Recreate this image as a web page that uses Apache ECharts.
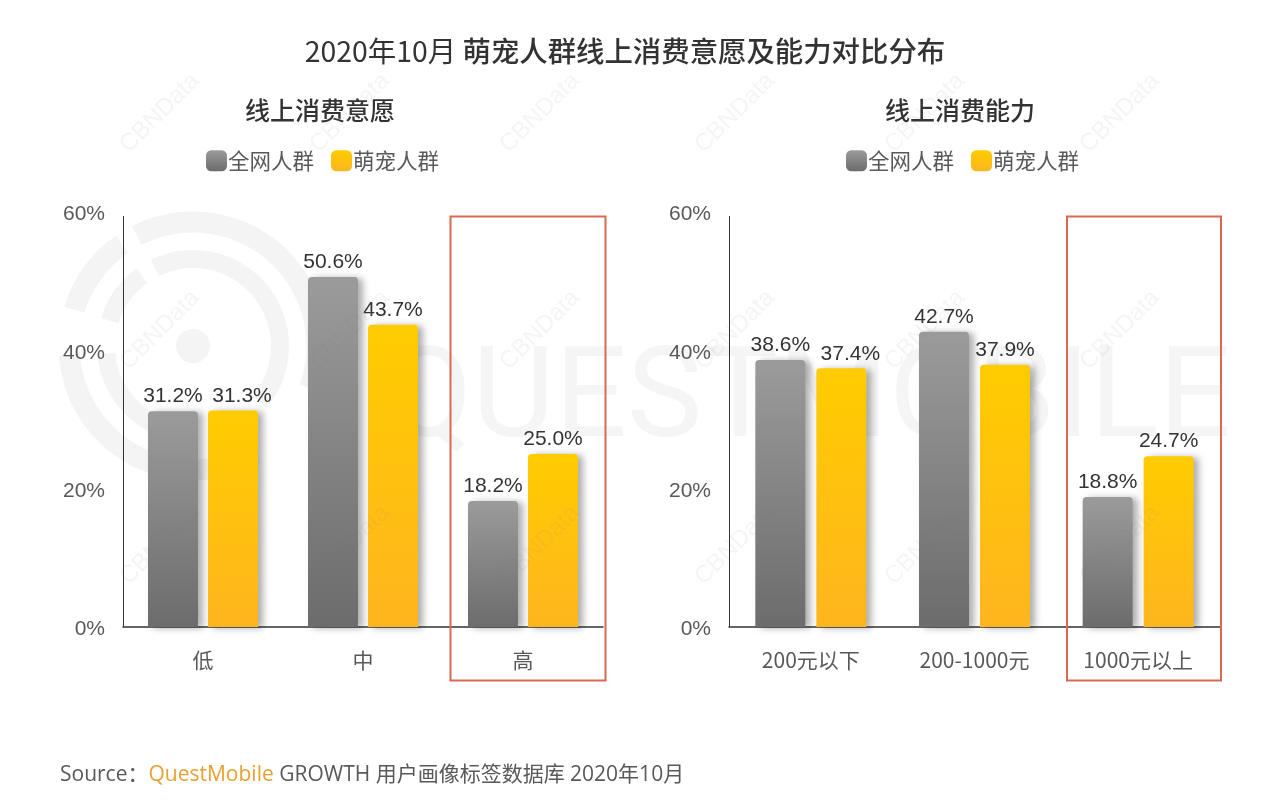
<!DOCTYPE html>
<html>
<head>
<meta charset="utf-8">
<style>
  html, body { margin: 0; padding: 0; background: #fff; }
  #container { width: 1280px; height: 807px; }
</style>
<script src="https://cdn.jsdelivr.net/npm/echarts@6/dist/echarts.min.js"></script>
</head>
<body>
<div id="container"></div>
<script>
var seriesNames = ["全网人群", "萌宠人群"];

var willCategories = ["低", "中", "高"];
var willAll = [31.2, 50.6, 18.2];
var willPet = [31.3, 43.7, 25.0];

var abilityCategories = ["200元以下", "200-1000元", "1000元以上"];
var abilityAll = [38.6, 42.7, 18.8];
var abilityPet = [37.4, 37.9, 24.7];

var latin = "Liberation Sans";
var cjk = "Noto Sans CJK SC";
var grayFill = {
    type: "linear", x: 0, y: 0, x2: 0, y2: 1,
    colorStops: [{ offset: 0, color: "#9b9b9b" }, { offset: 1, color: "#6c6c6c" }]
};
var yellowFill = {
    type: "linear", x: 0, y: 0, x2: 0, y2: 1,
    colorStops: [{ offset: 0, color: "#ffcc00" }, { offset: 1, color: "#ffb51f" }]
};

// nudge is the index of a bar whose label sits to the right of the bar
function barSeries(name, data, idx, fill, gap, nudge) {
    return {
        name: name,
        type: "bar",
        xAxisIndex: idx,
        yAxisIndex: idx,
        data: data.map(function (v, i) {
            return i === nudge ? { value: v, label: { offset: [9, 0] } } : v;
        }),
        barWidth: 50,
        barGap: gap,
        itemStyle: {
            color: fill,
            borderRadius: [4, 4, 0, 0],
            shadowColor: "rgba(0,0,0,0.32)",
            shadowBlur: 7,
            shadowOffsetX: 5,
            shadowOffsetY: 1
        },
        label: {
            show: true,
            position: "top",
            distance: 4,
            fontFamily: latin,
            fontSize: 21,
            color: "#333",
            formatter: function (p) { return p.value.toFixed(1) + "%"; }
        }
    };
}

function xAxisOf(idx, cats) {
    return {
        type: "category",
        gridIndex: idx,
        data: cats,
        axisTick: { show: false },
        axisLine: { lineStyle: { color: "#333", width: 1.5 } },
        axisLabel: { margin: 23, fontFamily: cjk, fontSize: 21, color: "#595959", interval: 0 }
    };
}

function yAxisOf(idx) {
    return {
        type: "value",
        gridIndex: idx,
        min: 0,
        max: 60,
        interval: 20,
        axisLine: { show: false },
        axisTick: { show: false },
        splitLine: { show: false },
        axisLabel: {
            margin: 18, verticalAlign: "top", padding: [-8, 0, 0, 0],
            fontFamily: latin, fontSize: 21, color: "#595959", formatter: "{value}%"
        }
    };
}

function legendOf(left) {
    return {
        left: left,
        top: 150,
        padding: 0,
        icon: "roundRect",
        itemWidth: 21,
        itemHeight: 21,
        itemGap: 17,
        data: seriesNames,
        textStyle: { fontFamily: cjk, fontSize: 21.5, color: "#595959", padding: [0, 0, 0, -4] }
    };
}

function titleOf(text, left) {
    return {
        text: text, left: left, top: 98, textAlign: "center", padding: 0,
        textStyle: { fontFamily: cjk, fontSize: 25, fontWeight: 500, color: "#333" }
    };
}

// watermark pieces, all behind the bars
var wm = "#f4f4f4";
function ring(r, w, from, to) {
    return {
        type: "arc",
        z: 0,
        silent: true,
        shape: { cx: 193, cy: 346, r: r, startAngle: from * Math.PI / 180, endAngle: to * Math.PI / 180, clockwise: true },
        style: { stroke: wm, lineWidth: w, fill: null }
    };
}

var graphics = [
    ring(124, 21, 243, 380), ring(124, 21, 60, 176), ring(124, 21, 197, 235),
    ring(87, 18, 244, 400), ring(87, 18, 90, 175), ring(87, 18, 197, 234),
    { type: "circle", z: 0, silent: true, shape: { cx: 193, cy: 346, r: 17 }, style: { fill: wm } },
    {
        type: "text", z: 0, silent: true, x: 385, y: 341,
        style: { text: "QUESTMOBILE", fontFamily: "Roboto", fontWeight: 400, fontSize: 127, fill: "#f5f5f5" }
    }
];

[160, 350, 540, 735, 925, 1120].forEach(function (x) {
    [113, 330, 545].forEach(function (y) {
        graphics.push({
            type: "text", z: 20, silent: true, x: x, y: y, rotation: Math.PI / 4,
            style: {
                text: "CBNData", fontFamily: latin, fontSize: 24,
                fill: "rgba(130,130,130,0.08)", align: "center", verticalAlign: "middle"
            }
        });
    });
});

// axis lines and highlight boxes
graphics.push(
    { type: "line", z: 5, silent: true, shape: { x1: 123.5, y1: 216, x2: 123.5, y2: 627 }, style: { stroke: "#333", lineWidth: 1 } },
    { type: "line", z: 5, silent: true, shape: { x1: 729.5, y1: 216, x2: 729.5, y2: 627 }, style: { stroke: "#333", lineWidth: 1 } },
    { type: "rect", z: 5, silent: true, shape: { x: 450.5, y: 216.5, width: 155, height: 464 }, style: { fill: null, stroke: "#d9694f", lineWidth: 2 } },
    { type: "rect", z: 5, silent: true, shape: { x: 1067, y: 216.5, width: 154, height: 464 }, style: { fill: null, stroke: "#d9694f", lineWidth: 2 } },
    {
        type: "text", z: 5, silent: true, x: 60, y: 775,
        style: {
            text: "{a|Source：}{b|QuestMobile}{a| GROWTH 用户画像标签数据库 2020年10月}",
            verticalAlign: "middle",
            rich: {
                a: { fontFamily: "Open Sans, Noto Sans CJK SC", fontSize: 21, fill: "#595959", color: "#595959" },
                b: { fontFamily: "Open Sans, Noto Sans CJK SC", fontSize: 21, fill: "#e8a030", color: "#e8a030" }
            }
        }
    }
);

var myChart = echarts.init(document.getElementById("container"), null, { renderer: "canvas" });

var option = {
    animation: false,
    backgroundColor: "#fff",
    title: [
        {
            text: "{n|2020年10月 }{h|萌宠人群线上消费意愿及能力对比分布}",
            left: 625, top: 37, textAlign: "center", padding: 0,
            textStyle: {
                rich: {
                    n: { fontFamily: cjk, fontSize: 28.4, fontWeight: 400, color: "#333" },
                    h: { fontFamily: cjk, fontSize: 28.4, fontWeight: 500, color: "#333" }
                }
            }
        },
        titleOf("线上消费意愿", 320),
        titleOf("线上消费能力", 960)
    ],
    legend: [legendOf(206), legendOf(846)],
    grid: [
        { left: 123, top: 212, width: 480, height: 415 },
        { left: 729, top: 212, width: 491, height: 415 }
    ],
    xAxis: [xAxisOf(0, willCategories), xAxisOf(1, abilityCategories)],
    yAxis: [yAxisOf(0), yAxisOf(1)],
    series: [
        barSeries(seriesNames[0], willAll, 0, grayFill, "20%"),
        barSeries(seriesNames[1], willPet, 0, yellowFill, "20%", 0),
        barSeries(seriesNames[0], abilityAll, 1, grayFill, "22%"),
        barSeries(seriesNames[1], abilityPet, 1, yellowFill, "22%", 0)
    ],
    graphic: graphics
};

myChart.setOption(option);
window.addEventListener("resize", myChart.resize);
</script>
</body>
</html>
